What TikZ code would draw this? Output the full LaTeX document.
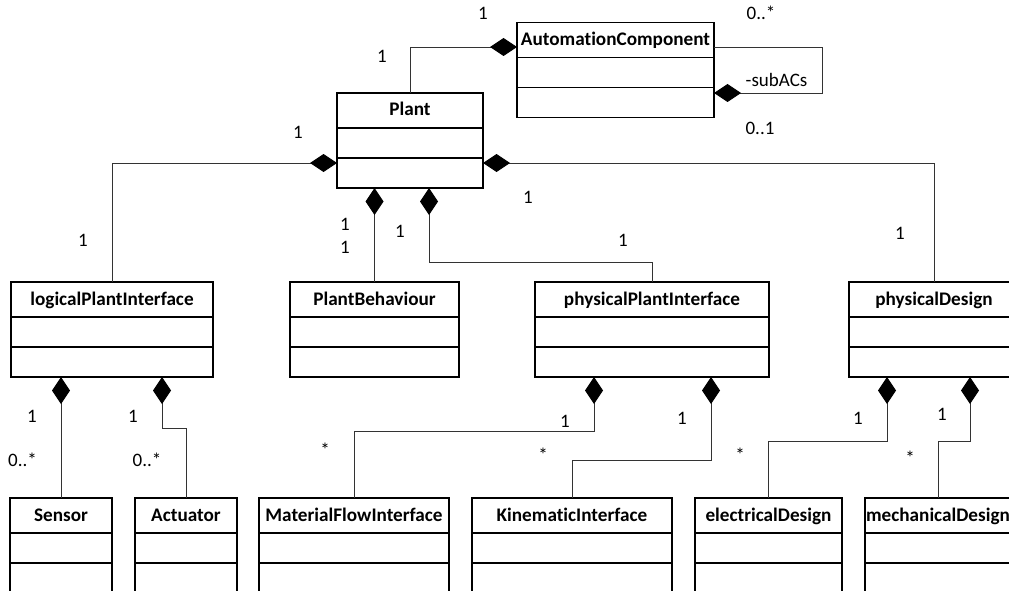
\documentclass[tikz,border=0pt]{standalone}
\usepackage{fontspec}
\setmainfont{Carlito}[Ligatures=NoCommon]
\usetikzlibrary{arrows.meta,calc}

\tikzset{
  classbox/.style={draw=black, line width=1.5pt, anchor=north west,
    inner sep=0pt, outer sep=0pt, minimum height=95pt},
  classtitle/.style={anchor=base, inner sep=0pt,
    font=\bfseries\fontsize{19.2}{21}\selectfont},
  divider/.style={draw=black, line width=1.5pt},
  comp/.style={draw=black!80, line width=0.9pt,
    {Diamond[length=27pt,width=18pt,color=black]}-},
  mult/.style={inner sep=0pt, font=\fontsize{19}{21}\selectfont},
}

% UML class with a title compartment and two empty compartments
% #1 name, #2 left x, #3 top y, #4 width, #5 title
\newcommand\umlclass[5]{%
  \node[classbox, minimum width=#4pt] (#1) at (#2,#3) {};
  \node[classtitle] (#1-title) at ([yshift=-23pt]#1.north) {#5};
  \draw[divider] ([yshift=-35pt]#1.north west) -- ([yshift=-35pt]#1.north east);
  \draw[divider] ([yshift=-65pt]#1.north west) -- ([yshift=-65pt]#1.north east);
}

\begin{document}
\begin{tikzpicture}[x=1pt, y=-1pt]
  \useasboundingbox (0,0) rectangle (1009,591);
  \clip (0,0) rectangle (1009,591);

  % classes
  \umlclass{ac}{517}{22.5}{197}{AutomationComponent}
  \umlclass{plant}{337}{93}{146}{Plant}
  \umlclass{lpi}{11}{282}{202}{logicalPlantInterface}
  \umlclass{pb}{290}{282}{169}{PlantBehaviour}
  \umlclass{ppi}{535}{282}{234}{physicalPlantInterface}
  \umlclass{pd}{849}{282}{170}{physicalDesign}
  \umlclass{sensor}{10}{498}{102}{Sensor}
  \umlclass{act}{135}{498}{102}{Actuator}
  \umlclass{mfi}{259}{498}{190}{MaterialFlowInterface}
  \umlclass{ki}{472}{498}{200}{KinematicInterface}
  \umlclass{ed}{695}{498}{147}{electricalDesign}
  \umlclass{md}{865}{498}{146}{mechanicalDesign}

  % compositions
  \draw[comp] ([yshift=-24.5pt]ac.north west) -| (plant.north);
  \draw[comp] ([yshift=-70.5pt]ac.north east) -- ++(108,0) |- ([yshift=-24.5pt]ac.north east);
  \draw[comp] ([yshift=-70pt]plant.north west) -| (lpi.north);
  \draw[comp] ([yshift=-70pt]plant.north east) -| (pd.north);
  \draw[comp] (pb.north |- plant.south) -- (pb.north);
  \draw[comp] ([xshift=19pt]plant.south) -- ++(0,74) -| (ppi.north);
  \draw[comp] (sensor.north |- lpi.south) -- (sensor.north);
  \draw[comp] ([xshift=50pt]lpi.south) -- ++(0,51) -| (act.north);
  \draw[comp] ([xshift=-58pt]ppi.south) -- ++(0,54) -| (mfi.north);
  \draw[comp] ([xshift=59pt]ppi.south) -- ++(0,83) -| (ki.north);
  \draw[comp] ([xshift=-47pt]pd.south) -- ++(0,64) -| (ed.north);
  \draw[comp] ([xshift=36pt]pd.south) -- ++(0,64) -| (md.north);

  % multiplicities and role names
  \node[mult] (m1) at (483,13) {1};
  \node[mult] (m2) at (382,56) {1};
  \node[mult] (m3) at (761,13) {0..*};
  \node[mult] (m4) at (776.5,80) {-subACs};
  \node[mult] (m5) at (760,128) {0..1};
  \node[mult] (m6) at (298,132) {1};
  \node[mult] (m7) at (528,197) {1};
  \node[mult] (m8) at (83,240) {1};
  \node[mult] (m9) at (345,224) {1};
  \node[mult] (m10) at (345,247) {1};
  \node[mult] (m11) at (400,231) {1};
  \node[mult] (m12) at (623,240) {1};
  \node[mult] (m13) at (900,233) {1};
  \node[mult] (m14) at (32,416) {1};
  \node[mult] (m15) at (22.5,460) {0..*};
  \node[mult] (m16) at (133,416) {1};
  \node[mult] (m17) at (147,460) {0..*};
  \node[mult] (m18) at (565,421) {1};
  \node[mult] (m19) at (325,450) {*};
  \node[mult] (m20) at (682,418) {1};
  \node[mult] (m21) at (543,455) {*};
  \node[mult] (m22) at (858,418) {1};
  \node[mult] (m23) at (740,455) {*};
  \node[mult] (m24) at (942,414) {1};
  \node[mult] (m25) at (910,458) {*};
\end{tikzpicture}
\end{document}
